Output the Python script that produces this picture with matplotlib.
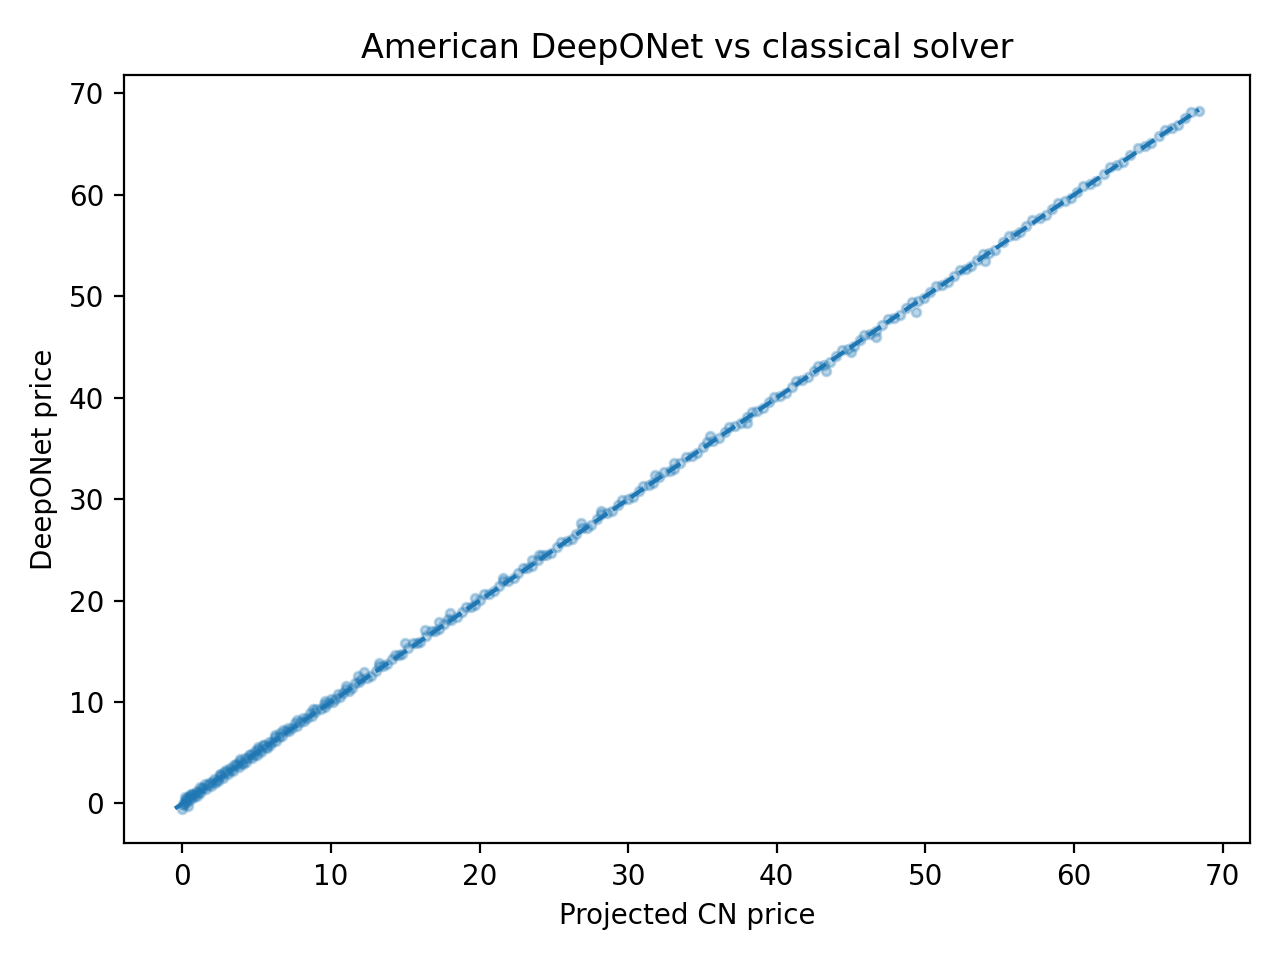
import numpy as np
import matplotlib.pyplot as plt

# projected CN price (x) and DeepONet price (y)
cn_price = [0.0, 0.1, 0.2, 0.3, 0.5, 0.7, 0.9, 1.1, 1.4, 1.7, 2.0, 2.3, 2.6, 3.0, 3.3,
            3.7, 4.0, 4.4, 4.8, 5.2, 5.6, 6.0, 6.5, 7.0, 7.4, 7.9, 8.4, 8.9, 9.3, 9.8,
            10.3, 10.8, 11.4, 11.9, 12.4, 13.0, 13.5, 14.1, 14.6, 15.2, 15.8, 16.4, 17.0,
            17.6, 18.1, 18.8, 19.4, 20.0, 20.6, 21.3, 21.9, 22.6, 23.2, 23.9, 24.5, 25.2,
            25.9, 26.5, 27.2, 27.9, 28.6, 29.3, 30.0, 30.7, 31.4, 32.1, 32.8, 33.5, 34.3,
            35.0, 35.7, 36.5, 37.2, 38.0, 38.7, 39.5, 40.2, 41.0, 41.7, 42.5, 43.2, 44.0,
            44.8, 45.6, 46.3, 47.1, 47.9, 48.7, 49.5, 50.3, 51.1, 51.9, 52.7, 53.5, 54.3,
            55.2, 56.0, 56.8, 57.7, 58.5, 59.4, 60.2, 61.1, 62.0, 62.9, 63.8, 64.8, 65.7,
            66.6, 67.5, 68.4,
            0.2, 0.4, 0.6, 1.0, 1.5, 2.2, 2.9, 3.6, 4.5, 5.4, 6.8, 8.8, 11.8, 12.2, 15.0,
            16.3, 18.0, 21.6, 24.0, 26.8, 31.8, 35.5, 38.0, 43.3, 45.0, 46.7, 49.4, 54.0,
            0.05, 0.15, 0.25, 0.35, 0.45, 0.55, 0.65, 0.8, 0.95, 1.2, 1.3, 1.6, 1.8, 1.9,
            2.1, 2.4, 2.5, 2.7, 2.8, 3.1, 3.2, 3.4, 3.5, 3.8, 3.9, 4.1, 4.2, 4.3, 4.6, 4.7,
            4.9, 5.0, 5.1, 5.3, 5.5, 5.7, 5.8, 5.9, 6.2, 6.3, 6.6, 6.7, 7.1, 7.2, 7.6, 7.7,
            8.1, 8.2, 8.6, 8.7, 9.0, 9.5, 9.6, 10.0, 10.1, 10.5, 10.6, 11.0, 11.2, 11.6,
            12.0, 12.7, 13.2, 13.8, 14.3, 14.8, 15.5, 16.0, 16.7, 17.3, 17.9, 18.5, 19.1,
            19.7, 20.3, 21.0, 21.6, 22.3, 22.9, 23.5, 24.2, 24.8, 25.5, 26.2, 26.9, 27.5,
            28.2, 28.9, 29.6, 30.3, 31.0, 31.7, 32.4, 33.1, 33.9, 34.6, 35.3, 36.1, 36.8,
            37.6, 38.3, 39.1, 39.8, 40.6, 41.3, 42.1, 42.8, 43.6, 44.4, 45.2, 45.9, 46.7,
            47.5, 48.3, 49.1, 49.9, 50.7, 51.5, 52.3, 53.1, 53.9, 54.7, 55.6, 56.4, 57.2,
            58.1, 58.9, 59.8, 60.6, 61.5, 62.4, 63.3, 64.3, 65.2, 66.1, 67.0, 67.9,
            1.2, 2.5, 3.9, 5.1, 6.2, 7.7, 9.6, 11.0, 13.2, 17.3, 19.7, 23.5, 28.2, 33.1]
deeponet_price = [-0.5, -0.2, 0.2, 0.5, 0.6, 0.8, 1.0, 1.1, 1.5, 1.8, 2.1, 2.3, 2.7, 3.1, 3.3,
                  3.8, 4.0, 4.5, 4.8, 5.3, 5.6, 6.1, 6.5, 7.1, 7.4, 8.0, 8.4, 9.0, 9.3, 9.9,
                  10.3, 10.9, 11.4, 12.0, 12.4, 13.1, 13.5, 14.2, 14.6, 15.3, 15.8, 16.5, 17.0,
                  17.7, 18.1, 18.9, 19.4, 20.1, 20.6, 21.4, 21.9, 22.7, 23.2, 24.0, 24.5, 25.3,
                  25.9, 26.6, 27.2, 28.0, 28.6, 29.4, 30.0, 30.8, 31.4, 32.2, 32.8, 33.6, 34.3,
                  35.1, 35.7, 36.6, 37.2, 38.1, 38.7, 39.6, 40.2, 41.1, 41.7, 42.6, 43.2, 44.1,
                  44.8, 45.7, 46.3, 47.2, 47.9, 48.8, 49.5, 50.4, 51.1, 52.0, 52.7, 53.6, 54.3,
                  55.3, 56.0, 56.9, 57.7, 58.6, 59.4, 60.3, 61.1, 62.1, 62.9, 63.9, 64.8, 65.8,
                  66.6, 67.6, 68.3,
                  0.6, -0.3, 0.9, 0.7, 1.9, 2.0, 3.3, 3.9, 4.8, 5.8, 7.2, 9.3, 12.6, 13.0, 15.8,
                  17.1, 18.8, 22.2, 24.5, 27.6, 32.4, 36.2, 37.5, 42.6, 44.5, 46.0, 48.4, 53.5,
                  -0.1, 0.0, 0.4, 0.2, 0.7, 0.4, 0.9, 0.6, 1.2, 1.0, 1.5, 1.4, 2.0, 1.7,
                  2.4, 2.2, 2.8, 2.5, 3.1, 2.9, 3.5, 3.2, 3.8, 3.6, 4.2, 3.9, 4.5, 4.1, 4.9, 4.5,
                  5.2, 4.8, 5.4, 5.1, 5.8, 5.5, 6.1, 5.8, 6.5, 6.2, 6.9, 6.6, 7.4, 7.1, 7.9, 7.6,
                  8.4, 8.1, 8.9, 8.6, 9.3, 9.8, 9.5, 10.3, 10.0, 10.8, 10.5, 11.3, 11.1, 11.9,
                  12.3, 12.6, 13.5, 13.7, 14.6, 14.7, 15.8, 15.9, 17.0, 17.2, 18.2, 18.4, 19.4,
                  19.6, 20.6, 20.9, 21.9, 22.2, 23.2, 23.4, 24.5, 24.7, 25.8, 26.1, 27.2, 27.4,
                  28.5, 28.8, 29.9, 30.2, 31.3, 31.6, 32.7, 33.0, 34.2, 34.5, 35.6, 36.0, 37.1,
                  37.5, 38.6, 39.0, 40.1, 40.5, 41.6, 42.0, 43.1, 43.5, 44.7, 45.1, 46.2, 46.6,
                  47.8, 48.2, 49.4, 49.8, 51.0, 51.4, 52.6, 53.0, 54.2, 54.6, 55.9, 56.3, 57.5,
                  58.0, 59.2, 59.7, 60.9, 61.4, 62.7, 63.2, 64.6, 65.1, 66.4, 66.9, 68.2,
                  1.6, 2.9, 4.4, 5.6, 6.7, 8.2, 10.1, 11.6, 13.8, 17.9, 20.3, 24.0, 28.8, 33.6]

fig, ax = plt.subplots()
ax.scatter(cn_price, deeponet_price, s=10, alpha=0.3)
lo, hi = min(cn_price) - 0.5, max(cn_price)
ax.plot([lo, hi], [lo, hi], "--")
ax.set_xlabel("Projected CN price")
ax.set_ylabel("DeepONet price")
ax.set_title("American DeepONet vs classical solver")
fig.tight_layout()
fig.savefig("out.png", dpi=200)
